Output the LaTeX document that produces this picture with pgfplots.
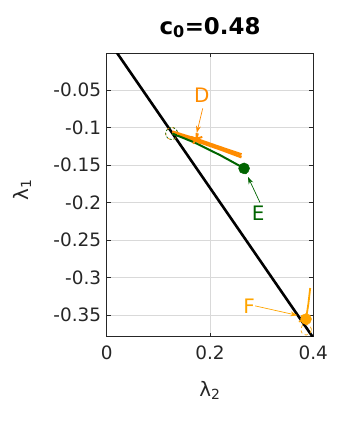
\documentclass[border=0pt]{standalone}
\usepackage{pgfplots}
\pgfplotsset{compat=1.18}
\usetikzlibrary{arrows.meta}
\usepackage{fontspec}
\setmainfont{DejaVu Sans}
\definecolor{dorange}{RGB}{255,140,0}
\definecolor{forange}{RGB}{255,165,0}
\definecolor{dgreen}{RGB}{0,100,0}
\definecolor{axgray}{RGB}{38,38,38}
\begin{document}
\begin{tikzpicture}
\begin{axis}[
  scale only axis, width=206.6bp, height=283.4bp,
  xmin=0, xmax=0.4, ymin=-0.379, ymax=-0.001,
  xtick={0,0.2,0.4}, xticklabels={0,0.2,0.4},
  ytick={-0.35,-0.3,-0.25,-0.2,-0.15,-0.1,-0.05},
  yticklabels={-0.35,-0.3,-0.25,-0.2,-0.15,-0.1,-0.05},
  grid=major, major grid style={black!15, line width=0.6bp},
  tick align=inside, major tick length=4bp,
  axis line style={axgray, line width=0.7bp},
  tick style={axgray, line width=0.7bp},
  ticklabel style={font=\fontsize{18.5}{20}\selectfont, text=axgray},
  xticklabel style={yshift=-6bp},
  yticklabel style={xshift=-2bp},
  title={\bfseries c\textsubscript{0}=0.48},
  title style={font=\fontsize{23}{26}\selectfont, at={(axis description cs:0.5,1.07)}, anchor=center},
  xlabel={λ\textsubscript{2}},
  ylabel={λ\textsubscript{1}},
  xlabel style={font=\fontsize{20}{22}\selectfont, text=axgray, at={(axis description cs:0.5,-0.19)}, anchor=center},
  ylabel style={font=\fontsize{20}{22}\selectfont, text=axgray, at={(axis description cs:-0.41,0.518)}, anchor=center},
  clip=true,
]
% boundary line
\addplot[black, line width=2.6bp] coordinates {(0,0.0195) (0.4,-0.3805)};
% orange D bundle
\addplot[dorange, line width=2.6bp] coordinates {(0.127,-0.1055) (0.150,-0.1105) (0.174,-0.1155) (0.220,-0.1265) (0.261,-0.1360)};
\addplot[dorange, line width=2.6bp] coordinates {(0.127,-0.1075) (0.150,-0.1130) (0.174,-0.1180) (0.220,-0.1290) (0.261,-0.1395)};
\addplot[dorange, only marks, mark=star, mark size=6bp, mark options={line width=2bp}] coordinates {(0.174,-0.1150)};
\addplot[dorange, line width=1.4bp] coordinates {(0.174,-0.1160) (0.177,-0.1080)};
% green E line
\addplot[dgreen, line width=2bp] coordinates {(0.127,-0.1080) (0.170,-0.1200) (0.220,-0.1370) (0.265,-0.1540)};
\addplot[dgreen, only marks, mark=*, mark size=5.5bp] coordinates {(0.266,-0.1545)};
\addplot[dgreen, line width=1.4bp] coordinates {(0.266,-0.1545) (0.270,-0.1620)};
% start circles
\addplot[dorange, only marks, mark=o, mark size=6bp, mark options={line width=0.7bp, dashed}] coordinates {(0.1258,-0.1080)};
\addplot[dgreen, only marks, mark=o, mark size=6bp, mark options={line width=0.7bp, dash pattern=on 2bp off 2bp, dash phase=2bp}] coordinates {(0.1258,-0.1080)};
% F cluster
\addplot[forange, line width=1.8bp] coordinates {(0.386,-0.3550) (0.3905,-0.3350) (0.3940,-0.3140)};
\addplot[forange, line width=1.5bp] coordinates {(0.386,-0.3550) (0.372,-0.3590)};
\addplot[forange, line width=1.5bp] coordinates {(0.386,-0.3550) (0.376,-0.3510)};
\addplot[forange, only marks, mark=*, mark size=5.5bp] coordinates {(0.386,-0.3555)};
\addplot[forange, only marks, mark=o, mark size=5.5bp, mark options={line width=0.7bp, dashed}] coordinates {(0.386,-0.3695)};
% arrows
\addplot[dorange, line width=0.7bp, -{Stealth[length=7bp,width=5bp]}] coordinates {(0.1859,-0.0744) (0.1745,-0.1070)};
\addplot[dgreen, line width=0.7bp, -{Stealth[length=7bp,width=5bp]}] coordinates {(0.2968,-0.2001) (0.2736,-0.1660)};
\addplot[forange, line width=0.7bp, -{Stealth[length=7bp,width=5bp]}] coordinates {(0.2874,-0.3379) (0.3690,-0.3505)};
% labels
\node[text=dorange, font=\fontsize{20}{22}\selectfont] at (axis cs:0.184,-0.0571) {D};
\node[text=dgreen, font=\fontsize{20}{22}\selectfont] at (axis cs:0.2935,-0.2142) {E};
\node[text=forange, font=\fontsize{20}{22}\selectfont] at (axis cs:0.2757,-0.3380) {F};
\end{axis}
\pgfresetboundingbox
\path[use as bounding box] ([shift={(-106.7bp,-87.3bp)}]current axis.south west) rectangle ++(364bp,424bp);
\end{tikzpicture}
\end{document}
